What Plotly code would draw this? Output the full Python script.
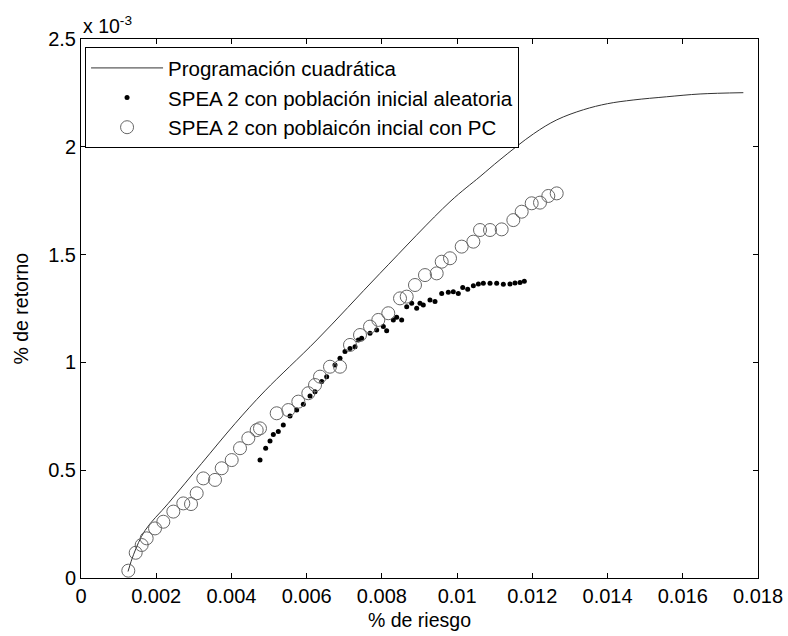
import plotly.graph_objects as go

# Programación cuadrática (frontier line); y in units of 1e-3
qp_x = [0.00125, 0.00140, 0.00170, 0.00232, 0.00321, 0.00410, 0.00489,
        0.00627, 0.00795, 0.00981, 0.01061, 0.01114, 0.01203, 0.01265, 0.01336,
        0.01400, 0.01468, 0.01557, 0.01646, 0.01761]
qp_y = [0.03, 0.11, 0.22, 0.346, 0.532, 0.717, 0.868,
        1.104, 1.413, 1.745, 1.862, 1.940, 2.060, 2.125, 2.172,
        2.200, 2.217, 2.232, 2.245, 2.251]

# SPEA 2 con población inicial aleatoria
rnd_x = [0.00476, 0.00491, 0.005025, 0.005114, 0.005246, 0.005379, 0.005557, 0.005734,
         0.005911, 0.006089, 0.006222, 0.00640, 0.006532, 0.006753, 0.006886, 0.007019,
         0.007152, 0.007285, 0.007374, 0.007462, 0.007684, 0.007862, 0.008038, 0.008127,
         0.008304, 0.008393, 0.008526, 0.00866, 0.008792, 0.008925, 0.009013, 0.009101,
         0.009279, 0.009412, 0.00959, 0.009766, 0.009899, 0.010032, 0.010149, 0.010282,
         0.010432, 0.010565, 0.010697, 0.010875, 0.011052, 0.011229, 0.011406, 0.011539,
         0.011672, 0.011787]
rnd_y = [0.547, 0.602, 0.635, 0.666, 0.679, 0.710, 0.751, 0.779,
         0.806, 0.844, 0.864, 0.911, 0.934, 0.988, 1.019, 1.050,
         1.065, 1.073, 1.104, 1.112, 1.135, 1.150, 1.166, 1.147,
         1.197, 1.209, 1.197, 1.258, 1.274, 1.251, 1.274, 1.266,
         1.289, 1.282, 1.320, 1.325, 1.328, 1.320, 1.347, 1.339,
         1.356, 1.364, 1.367, 1.367, 1.367, 1.362, 1.364, 1.368,
         1.371, 1.376]

# SPEA 2 con poblaicón incial con PC
pc_x = [0.001258, 0.001454, 0.001613, 0.001746, 0.001968, 0.002189, 0.002455, 0.00272,
        0.002925, 0.003076, 0.003252, 0.003563, 0.003741, 0.004007, 0.004228, 0.004449,
        0.004671, 0.004759, 0.005203, 0.005512, 0.005778, 0.006044, 0.006222, 0.006355,
        0.00662, 0.006886, 0.007152, 0.007418, 0.007684, 0.007905, 0.00817, 0.008482,
        0.00866, 0.00888, 0.009146, 0.009457, 0.00959, 0.009811, 0.010122, 0.010432,
        0.010609, 0.010875, 0.011185, 0.011495, 0.011717, 0.011983, 0.012204, 0.012425,
        0.012648]
pc_y = [0.034, 0.117, 0.153, 0.184, 0.230, 0.261, 0.308, 0.346,
        0.343, 0.393, 0.462, 0.455, 0.509, 0.547, 0.602, 0.648,
        0.686, 0.694, 0.764, 0.779, 0.818, 0.857, 0.895, 0.934,
        0.980, 0.980, 1.081, 1.127, 1.166, 1.197, 1.228, 1.297,
        1.305, 1.359, 1.405, 1.413, 1.467, 1.483, 1.537, 1.560,
        1.614, 1.614, 1.617, 1.660, 1.699, 1.738, 1.741, 1.772,
        1.784]

x_tickvals = [0, 0.002, 0.004, 0.006, 0.008, 0.010, 0.012, 0.014, 0.016, 0.018]
x_ticktext = ["0", "0.002", "0.004", "0.006", "0.008", "0.01", "0.012", "0.014", "0.016", "0.018"]
y_tickvals = [0, 0.5, 1, 1.5, 2, 2.5]
y_ticktext = ["0", "0.5", "1", "1.5", "2", "2.5"]

FONT = "Liberation Sans, Arial, Helvetica, sans-serif"

fig = go.Figure()
fig.add_trace(go.Scatter(x=qp_x, y=qp_y, mode="lines", name="Programación cuadrática",
                         line=dict(color="#333333", width=1, shape="spline", smoothing=1.0)))
fig.add_trace(go.Scatter(x=rnd_x, y=rnd_y, mode="markers",
                         name="SPEA 2 con población inicial aleatoria",
                         marker=dict(symbol="circle", size=5, color="black")))
fig.add_trace(go.Scatter(x=pc_x, y=pc_y, mode="markers",
                         name="SPEA 2 con poblaicón incial con PC",
                         marker=dict(symbol="circle-open", size=13, color="#666666",
                                     line=dict(width=1, color="#666666"))))

axis_common = dict(showline=True, linecolor="black", linewidth=1, mirror="ticks",
                   ticks="inside", ticklen=5, tickcolor="black", showgrid=False,
                   zeroline=False, automargin=False, ticklabeloverflow="allow",
                   tickfont=dict(family=FONT, size=20, color="black"))

fig.update_xaxes(range=[0, 0.018], tickvals=x_tickvals, ticktext=x_ticktext, **axis_common)
fig.update_yaxes(range=[0, 2.5], tickvals=y_tickvals, ticktext=y_ticktext, **axis_common)

# axis titles and exponent label placed as annotations
fig.add_annotation(text="% de riesgo", xref="paper", yref="paper", x=0.5, y=0,
                   xanchor="center", yanchor="middle", yshift=-42, showarrow=False,
                   font=dict(family=FONT, size=19.5, color="black"))
fig.add_annotation(text="% de retorno", xref="paper", yref="paper", x=0, y=0.5,
                   xanchor="center", yanchor="middle", xshift=-61, textangle=-90,
                   showarrow=False, font=dict(family=FONT, size=19.5, color="black"))
fig.add_annotation(text="x 10<sup>-3</sup>", xref="paper", yref="paper", x=0, y=1,
                   xanchor="left", yanchor="bottom", showarrow=False, yshift=0,
                   font=dict(family=FONT, size=19.5, color="black"))

fig.update_layout(
    width=788, height=636,
    margin=dict(l=81, r=30, t=39, b=58),
    paper_bgcolor="white", plot_bgcolor="white",
    font=dict(family=FONT, size=20, color="black"),
    showlegend=True,
    legend=dict(x=0.006, y=0.985, xanchor="left", yanchor="top",
                bgcolor="white", bordercolor="black", borderwidth=1,
                font=dict(family=FONT, size=20.5, color="black"),
                itemwidth=72, tracegroupgap=0),
)

fig.write_html("out.html", config={"displayModeBar": False},
               post_script="document.body.style.margin='0';document.body.style.overflow='hidden';")
